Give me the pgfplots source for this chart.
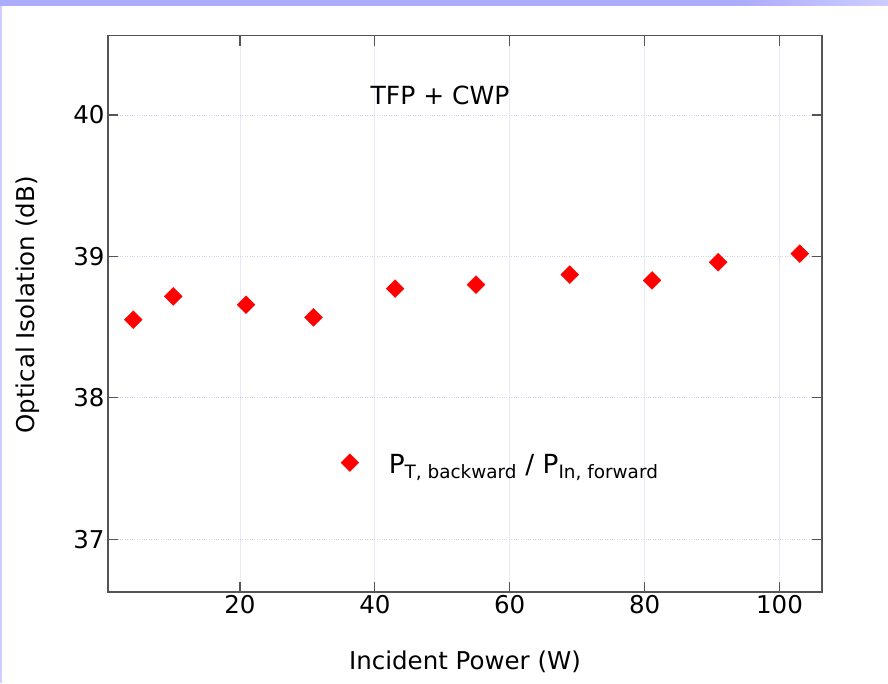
\documentclass[border=0pt]{standalone}
\usepackage{fontspec}
\setmainfont{DejaVu Sans}
\usepackage{pgfplots}
\pgfplotsset{compat=1.18}

\definecolor{band}{RGB}{172,172,255}
\definecolor{bandlight}{RGB}{205,205,255}
\definecolor{gridv}{RGB}{232,232,250}
\definecolor{gridh}{RGB}{210,210,240}
\definecolor{axline}{RGB}{85,85,85}

\pgfplotsset{diamondlegend/.style={legend image code/.code={\draw[##1, only marks] plot coordinates {(0pt,2pt)};}}}

\begin{document}
\begin{tikzpicture}
\path[use as bounding box] (0,0) rectangle (888pt,683pt);
\fill[band] (0,677pt) rectangle (740pt,683pt);
\shade[left color=band,right color=bandlight] (740pt,677pt) rectangle (888pt,683pt);
\fill[bandlight] (0,0) rectangle (2pt,677pt);

\begin{axis}[
  at={(108pt,91pt)}, anchor=south west,
  scale only axis, width=714pt, height=556.3pt,
  xmin=0.43, xmax=106.3, ymin=36.627, ymax=40.56,
  xtick={20,40,60,80,100}, ytick={37,38,39,40},
  tick align=inside, major tick length=10pt,
  tick style={axline, line width=1.2pt},
  axis line style={axline, line width=1.5pt},
  grid=major,
  x grid style={gridv, line width=0.8pt},
  y grid style={gridh, dotted, line width=0.8pt},
  /pgf/number format/assume math mode=true,
  tick label style={font=\fontsize{24.5}{29}\selectfont},
  label style={font=\fontsize{24.5}{29}\selectfont},
  xlabel={Incident Power (W)},
  ylabel={Optical Isolation (dB)},
  xlabel style={at={(axis description cs:0.5,-0.126)}, anchor=center},
  ylabel style={at={(axis description cs:-0.112,0.516)}, anchor=center},
  legend style={at={(axis description cs:0.326,0.229)}, anchor=west,
    draw=none, fill=none, inner sep=0pt,
    font=\fontsize{26.3}{30}\selectfont,
    /tikz/every odd column/.append style={column sep=28pt}},
]
\addplot[only marks, red, mark=square*, mark size=6.3pt,
  mark options={rotate=45, fill=red, draw=red}, diamondlegend]
  coordinates {
  (4.18, 38.552)
  (10.1, 38.717)
  (20.9, 38.658)
  (30.9, 38.569)
  (43.0, 38.772)
  (55.0, 38.800)
  (68.9, 38.871)
  (81.1, 38.830)
  (90.9, 38.958)
  (103.0, 39.019)
};
\addlegendentry{P\textsubscript{T, backward} / P\textsubscript{In, forward}}
\node[font=\fontsize{25}{30}\selectfont] at (axis cs:49.66,40.137) {TFP + CWP};
\end{axis}
\end{tikzpicture}
\end{document}
